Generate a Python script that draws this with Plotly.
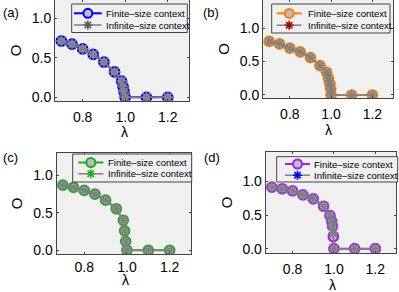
import plotly.graph_objects as go

# ---- data ----
lam_a = [0.7, 0.75, 0.8, 0.85, 0.9, 0.95, 0.983, 0.99, 0.995, 1.0, 1.1, 1.2]
fin_a = [0.71, 0.67, 0.61, 0.54, 0.445, 0.32, 0.205, 0.135, 0.07, 0.0, 0.0, 0.0]
inf_a = [0.71, 0.67, 0.61, 0.54, 0.445, 0.32, 0.205, 0.135, 0.07, 0.0, 0.0, 0.0]

lam_b = [0.7, 0.75, 0.8, 0.85, 0.9, 0.946, 0.978, 0.987, 0.994, 0.998, 1.0, 1.1, 1.2]
fin_b = [0.80, 0.765, 0.70, 0.645, 0.56, 0.44, 0.34, 0.25, 0.17, 0.09, 0.0, 0.0, 0.0]
inf_b = [0.80, 0.765, 0.70, 0.645, 0.56, 0.44, 0.34, 0.25, 0.17, 0.09, 0.0, 0.0, 0.0]

lam_c = [0.7, 0.75, 0.8, 0.85, 0.9, 0.95, 0.983, 0.989, 0.994, 1.0, 1.1, 1.2]
fin_c = [0.87, 0.84, 0.80, 0.75, 0.67, 0.555, 0.40, 0.26, 0.12, 0.0, 0.0, 0.0]
inf_c = [0.87, 0.84, 0.80, 0.75, 0.67, 0.555, 0.40, 0.26, 0.12, 0.0, 0.0, 0.0]

lam_d = [0.7, 0.75, 0.8, 0.85, 0.9, 0.95, 0.981, 0.989, 0.993, 0.997, 1.0, 1.1, 1.2]
fin_d = [0.915, 0.89, 0.86, 0.80, 0.74, 0.63, 0.49, 0.41, 0.335, 0.18, 0.0, 0.0, 0.0]
inf_d = [0.915, 0.89, 0.86, 0.80, 0.74, 0.63, 0.49, 0.41, 0.335, 0.227, 0.0, 0.0, 0.0]

panel_labels = ["(a)", "(b)", "(c)", "(d)"]
x_ticks = [0.8, 1.0, 1.2]
x_ticklabels = ["0.8", "1.0", "1.2"]
y_ticks = [0.0, 0.5, 1.0]
y_ticklabels = ["0.0", "0.5", "1.0"]
x_title = "\u03bb"
y_title = "O"
legend_names = ["Finite\u2013size context", "Infinite\u2013size context"]

W, H = 399, 292
def px_x(v):
    return v / W
def px_y(v):
    return 1 - v / H

panels = [
    dict(lam=lam_a, fin=fin_a, inf=inf_a, fc="#0000ff", ic="#5a5a5a",
         box=(55, 189, 0, 101), yr=[-0.047, 1.227], lab=(1, 3), xt=(124, 132), so=3,
         leg=(71.7, 4, 187.3, 32.5, 74, 101.7, 104.3, 13.3, 25)),
    dict(lam=lam_b, fin=fin_b, inf=inf_b, fc="#ff8000", ic="#a00000",
         box=(263, 393, 0, 98), yr=[-0.045, 1.42], lab=(201, 3), xt=(328.5, 129.5), so=3,
         leg=(271.7, 4, 390, 33, 276.7, 301.7, 305.7, 13.4, 25.2)),
    dict(lam=lam_c, fin=fin_c, inf=inf_c, fc="#1faa1f", ic="#1faa1f",
         box=(56.5, 191, 153, 254), yr=[-0.05, 1.30], lab=(1, 148), xt=(125, 280), so=0,
         leg=(72.7, 154, 191.7, 182, 78.3, 103.3, 106, 162.5, 173.8)),
    dict(lam=lam_d, fin=fin_d, inf=inf_d, fc="#a020f0", ic="#0000ff",
         box=(265.7, 396, 151.7, 253), yr=[-0.064, 1.44], lab=(202, 148), xt=(332, 284.5), so=3,
         leg=(276.7, 156.7, 397.7, 182, 285, 310, 312.3, 164, 175.2)),
]

fig = go.Figure()
font_fam = "Liberation Sans, Arial, sans-serif"
star_path = "M-4.5,0L4.5,0M0,-4.5L0,4.5M-3.2,-3.2L3.2,3.2M-3.2,3.2L3.2,-3.2"

for i, p in enumerate(panels):
    n = "" if i == 0 else str(i + 1)
    xa, ya = "x" + n, "y" + n
    fig.add_trace(go.Scatter(
        x=p["lam"], y=p["fin"], xaxis=xa, yaxis=ya, showlegend=False,
        name=legend_names[0], mode="lines+markers",
        line=dict(color=p["fc"], width=2),
        marker=dict(symbol="circle", size=9.5, color="#bdbdbd",
                    line=dict(color=p["fc"], width=2.2)),
    ))
    fig.add_trace(go.Scatter(
        x=p["lam"], y=p["inf"], xaxis=xa, yaxis=ya, showlegend=False,
        name=legend_names[1], mode="lines+markers",
        line=dict(color="#808080", width=1.5),
        marker=dict(symbol="asterisk-open", size=9,
                    line=dict(color=p["ic"], width=1.6)),
    ))
    x0, x1, y0, y1 = p["box"]
    axis_common = dict(showline=True, linecolor="#444444", linewidth=1, mirror="ticks",
                       ticks="inside", ticklen=2, tickcolor="#444444",
                       showgrid=False, zeroline=False, automargin=False,
                       tickfont=dict(family=font_fam, size=14, color="black"))
    fig.layout["xaxis" + n] = dict(
        domain=[px_x(x0), px_x(x1)], anchor=ya, range=[0.67, 1.3],
        tickvals=x_ticks, ticktext=x_ticklabels, ticklabelstandoff=p["so"],
        **axis_common)
    fig.layout["yaxis" + n] = dict(
        domain=[px_y(y1), px_y(y0)], anchor=xa, range=p["yr"],
        tickvals=y_ticks, ticktext=y_ticklabels,
        title=dict(text=y_title, font=dict(family=font_fam, size=15, color="black"), standoff=6),
        **axis_common)
    tx_, ty_ = p["xt"]
    fig.add_annotation(text=x_title, xref="paper", yref="paper",
                       x=px_x(tx_), y=px_y(ty_), xanchor="center", yanchor="middle",
                       showarrow=False, font=dict(family=font_fam, size=14, color="black"))

    # legend (drawn as shapes + text in paper coordinates)
    L, T, R, B, lx0, lx1, tx, r1, r2 = p["leg"]
    fig.add_shape(type="rect", xref="paper", yref="paper",
                  x0=px_x(L), x1=px_x(R), y0=px_y(B), y1=px_y(T),
                  line=dict(color="#444444", width=1), fillcolor="#f0f0f0", layer="above")
    mx = (lx0 + lx1) / 2
    for row_y, col, nm, is_fin in [(r1, p["fc"], legend_names[0], True),
                                   (r2, "#808080", legend_names[1], False)]:
        fig.add_shape(type="line", xref="paper", yref="paper",
                      x0=px_x(lx0), x1=px_x(lx1), y0=px_y(row_y), y1=px_y(row_y),
                      line=dict(color=col, width=2 if is_fin else 1.5), layer="above")
        if is_fin:
            fig.add_shape(type="circle", xref="paper", yref="paper",
                          xsizemode="pixel", ysizemode="pixel",
                          xanchor=px_x(mx), yanchor=px_y(row_y),
                          x0=-4.5, x1=4.5, y0=-4.5, y1=4.5,
                          fillcolor="#bdbdbd", line=dict(color=p["fc"], width=2), layer="above")
        else:
            fig.add_shape(type="path", xref="paper", yref="paper",
                          xsizemode="pixel", ysizemode="pixel",
                          xanchor=px_x(mx), yanchor=px_y(row_y),
                          path=star_path, line=dict(color=p["ic"], width=1.6), layer="above")
        fig.add_annotation(text=nm, xref="paper", yref="paper",
                           x=px_x(tx), y=px_y(row_y), xanchor="left", yanchor="middle",
                           showarrow=False,
                           font=dict(family=font_fam, size=9.5, color="black"))

    ax, ay = p["lab"]
    fig.add_annotation(text=panel_labels[i], xref="paper", yref="paper",
                       x=px_x(ax), y=px_y(ay), xanchor="left", yanchor="top",
                       showarrow=False, font=dict(family=font_fam, size=13, color="black"))

fig.update_layout(
    width=W, height=H, margin=dict(l=0, r=0, t=0, b=0),
    paper_bgcolor="white", plot_bgcolor="#f0f0f0", showlegend=False,
)
fig.write_html("out.html", config={"displayModeBar": False},
               post_script="document.body.style.margin='0';document.body.style.overflow='hidden';")
